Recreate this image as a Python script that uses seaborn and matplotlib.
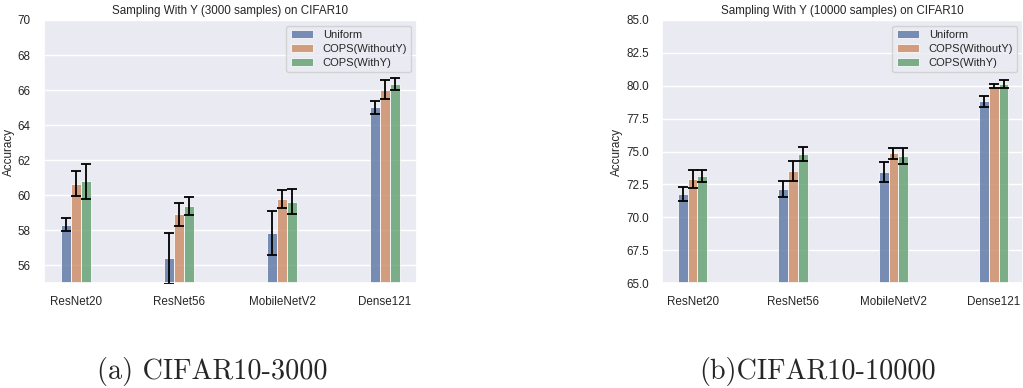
import matplotlib
matplotlib.use("Agg")
import matplotlib.pyplot as plt
import numpy as np
import pandas as pd
import seaborn as sns

# Model architectures and sampling methods
models = ["ResNet20", "ResNet56", "MobileNetV2", "Dense121"]
methods = ["Uniform", "COPS(WithoutY)", "COPS(WithY)"]

# CIFAR10, 3000 samples: mean accuracy and error half-widths
uniform_3000 = [58.32, 56.42, 57.84, 65.02]
without_y_3000 = [60.67, 58.92, 59.78, 66.01]
with_y_3000 = [60.79, 59.40, 59.63, 66.35]
uniform_3000_err = [0.36, 1.45, 1.26, 0.37]
without_y_3000_err = [0.71, 0.65, 0.50, 0.54]
with_y_3000_err = [1.00, 0.53, 0.71, 0.34]

# CIFAR10, 10000 samples: mean accuracy and error half-widths
uniform_10000 = [71.75, 72.13, 73.43, 78.82]
without_y_10000 = [72.89, 73.50, 74.85, 79.98]
with_y_10000 = [73.12, 74.82, 74.67, 80.12]
uniform_10000_err = [0.55, 0.61, 0.76, 0.42]
without_y_10000_err = [0.68, 0.74, 0.42, 0.14]
with_y_10000_err = [0.47, 0.56, 0.61, 0.30]

titles = ["Sampling With Y (3000 samples) on CIFAR10",
          "Sampling With Y (10000 samples) on CIFAR10"]
captions = ["(a) CIFAR10-3000", "(b)CIFAR10-10000"]

sns.set_theme(style="darkgrid", palette="deep")
plt.rcParams["font.family"] = ["Liberation Sans", "DejaVu Sans"]

FS = 8.4


def long_frame(series):
    rows = []
    for method, values in zip(methods, series):
        for model, v in zip(models, values):
            rows.append({"model": model, "method": method, "accuracy": v})
    return pd.DataFrame(rows)


def draw(ax, series, errors, title, ylim, yticks, xlim):
    df = long_frame(series)
    sns.barplot(data=df, x="model", y="accuracy", hue="method",
                order=models, hue_order=methods, errorbar=None,
                width=0.29, alpha=0.8, edgecolor="white", linewidth=0.7,
                ax=ax)
    # error bars placed at the centres of the drawn bars
    for container, err in zip(ax.containers, errors):
        xs = [p.get_x() + p.get_width() / 2 for p in container.patches]
        hs = [p.get_height() for p in container.patches]
        ax.errorbar(xs, hs, yerr=err, fmt="none", ecolor="black",
                    elinewidth=1.3, capsize=3.8, capthick=1.3, zorder=5)
    ax.set_ylim(*ylim)
    ax.set_yticks(yticks)
    ax.set_xlim(*xlim)
    ax.set_title(title, fontsize=FS, pad=4)
    ax.set_xlabel("")
    ax.set_ylabel("Accuracy", fontsize=FS, labelpad=2)
    ax.tick_params(labelsize=FS)
    handles, labels = ax.get_legend_handles_labels()
    ax.legend(handles, labels, loc="upper right", fontsize=8.0,
              labelspacing=0.38, borderpad=0.38, handlelength=2.0,
              handletextpad=0.9)


fig = plt.figure(figsize=(10.23, 3.88), dpi=100)
ax1 = fig.add_axes([44 / 1023, 105 / 388, 373 / 1023, 263 / 388])
ax2 = fig.add_axes([662 / 1023, 105 / 388, 361 / 1023, 263 / 388])

draw(ax1, [uniform_3000, without_y_3000, with_y_3000],
     [uniform_3000_err, without_y_3000_err, with_y_3000_err],
     titles[0], (55, 70), np.arange(56, 71, 2), (-0.31, 3.31))
draw(ax2, [uniform_10000, without_y_10000, with_y_10000],
     [uniform_10000_err, without_y_10000_err, with_y_10000_err],
     titles[1], (65, 85), np.arange(65, 85.1, 2.5), (-0.305, 3.29))

fig.text(97 / 1023, 1 - 379 / 388, captions[0], fontfamily="cmr10",
         fontsize=20.3, va="baseline", ha="left")
fig.text(699 / 1023, 1 - 379 / 388, captions[1], fontfamily="cmr10",
         fontsize=20.3, va="baseline", ha="left")

fig.savefig("out.png", dpi=100)
